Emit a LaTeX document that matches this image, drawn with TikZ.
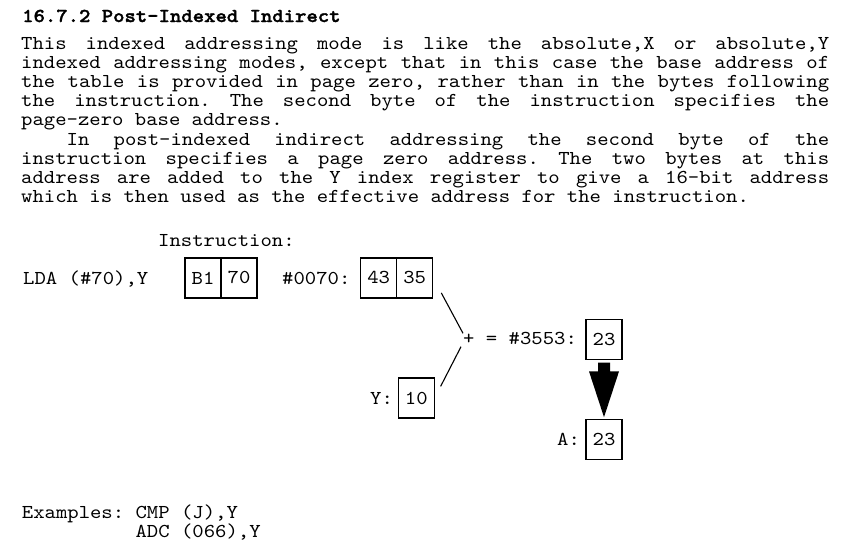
\documentclass[tikz,border=0pt]{standalone}
\usepackage{fontspec}
\setmainfont{lmmono10-regular.otf}[BoldFont=lmmonolt10-bold.otf, BoldFeatures={FakeBold=1.6}, FakeStretch=1.1]
\usetikzlibrary{calc}
\newcommand{\jline}[1]{\hbox to 808pt{\frenchspacing\spaceskip=\fontdimen2\font plus 1fil\relax #1}}
\tikzset{
  txt/.style={inner sep=0pt, anchor=base west, font=\fontsize{19.69}{19.2}\selectfont},
  cell/.style={draw, line width=1.2pt, minimum width=36pt, minimum height=40pt, inner sep=0pt, font=\fontsize{19.69}{19.2}\selectfont},
  link/.style={line width=1.1pt}
}
\begin{document}
\begin{tikzpicture}[x=1pt,y=1pt]
\useasboundingbox (0,0) rectangle (848,-555);
\fill[white] (0,0) rectangle (848,-555);
% heading and text
\node[txt, font=\fontsize{19.69}{19.2}\selectfont\bfseries] (title) at (22,-22) {16.7.2 Post-Indexed Indirect};
\node[txt] (l1) at (21,-49) {\jline{This indexed addressing mode is like the absolute,X or absolute,Y}};
\node[txt] (l2) at (21,-68.2) {\jline{indexed addressing modes, except that in this case the base address of}};
\node[txt] (l3) at (21,-87.4) {\jline{the table is provided in page zero, rather than in the bytes following}};
\node[txt] (l4) at (21,-106.6) {\jline{the instruction. The second byte of the instruction specifies the}};
\node[txt] (l5) at (21,-125.8) {page-zero base address.};
\node[txt] (l6) at (21,-145) {\jline{\hspace*{45.5pt}In post-indexed indirect addressing the second byte of the}};
\node[txt] (l7) at (21,-164.2) {\jline{instruction specifies a page zero address. The two bytes at this}};
\node[txt] (l8) at (21,-183.4) {\jline{address are added to the Y index register to give a 16-bit address}};
\node[txt] (l9) at (21,-202.6) {which is then used as the effective address for the instruction.};
% diagram
\node[txt] (instr) at (158,-246) {Instruction:};
\node[txt] (lda) at (23,-284.3) {LDA (\#70),Y};
\node[cell] (b1) at (203,-277.9) {B1};
\node[cell] (b2) at (239,-277.9) {70};
\node[txt] (addr) at (282,-284.3) {\#0070:};
\node[cell] (c1) at (378.7,-277.9) {43};
\node[cell] (c2) at (414.7,-277.9) {35};
\node[txt] (sum) at (463,-344) {+ = \#3553:};
\node[cell] (t) at (604,-339.3) {23};
\node[txt] (ylab) at (370,-404) {Y:};
\node[cell] (yb) at (416.3,-398) {10};
\node[txt] (alab) at (557,-445) {A:};
\node[cell] (ab) at (604,-439.3) {23};
\draw[link] ($(c2.south east)+(8,5.6)$) -- ($(sum.base west)+(0,10.7)$);
\draw[link] ($(sum.base west)+(-2,-2.7)$) -- ($(yb.north east)+(5.7,-9)$);
\fill ($(t.south)+(-6,-2.8)$) -- ($(t.south)+(6,-2.8)$) -- ($(t.south)+(6,-11.5)$)
  -- ($(t.south)+(15,-11.5)$) -- ($(ab.north)+(0,1.5)$) -- ($(t.south)+(-15,-11.5)$)
  -- ($(t.south)+(-6,-11.5)$) -- cycle;
% examples
\node[txt] (ex1) at (21.7,-518) {Examples:};
\node[txt] (ex2) at (135.4,-518) {CMP (J),Y};
\node[txt] (ex3) at (135.4,-537) {ADC (066),Y};
\end{tikzpicture}
\end{document}
